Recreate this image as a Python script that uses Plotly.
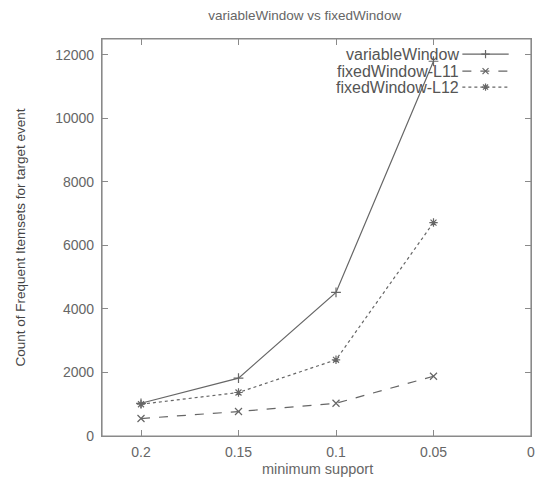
import plotly.graph_objects as go

support = [0.2, 0.15, 0.1, 0.05]
variable_window = [1030, 1820, 4520, 11800]
fixed_l11 = [550, 770, 1030, 1880]
fixed_l12 = [1000, 1370, 2400, 6720]

series_names = ["variableWindow", "fixedWindow-L11", "fixedWindow-L12"]
x_ticks = [0.2, 0.15, 0.1, 0.05, 0]
x_tick_text = ["0.2", "0.15", "0.1", "0.05", "0"]
y_ticks = [0, 2000, 4000, 6000, 8000, 10000, 12000]
y_tick_text = ["0", "2000", "4000", "6000", "8000", "10000", "12000"]

styles = [
    dict(dash="solid", symbol="cross-thin-open", color="#666666"),
    dict(dash="dash", symbol="x-thin-open", color="#666666"),
    dict(dash="dot", symbol="asterisk-open", color="#666666"),
]
series = [variable_window, fixed_l11, fixed_l12]

FONT = "Liberation Sans, Arial, sans-serif"
fig = go.Figure()

for name, vals, st in zip(series_names, series, styles):
    fig.add_trace(go.Scatter(
        x=support, y=vals, mode="lines+markers", name=name,
        line=dict(color=st["color"], width=1.2, dash=st["dash"]),
        marker=dict(symbol=st["symbol"], size=7, color=st["color"],
                    line=dict(color=st["color"], width=1.2)),
        showlegend=False,
    ))

# gnuplot-style key (text, then sample) on an overlay axis in unit coords
key_rows = [0.962, 0.919, 0.879]
for name, st, ky in zip(series_names, styles, key_rows):
    fig.add_trace(go.Scatter(
        x=[0.84, 0.948], y=[ky, ky], mode="lines", xaxis="x2", yaxis="y2",
        line=dict(color=st["color"], width=1.2, dash=st["dash"]),
        showlegend=False, hoverinfo="skip",
    ))
    fig.add_trace(go.Scatter(
        x=[0.894], y=[ky], mode="markers", xaxis="x2", yaxis="y2",
        marker=dict(symbol=st["symbol"], size=6, color=st["color"],
                    line=dict(color=st["color"], width=1.2)),
        showlegend=False, hoverinfo="skip",
    ))
    fig.add_annotation(
        x=0.836, y=ky, xref="paper", yref="paper", text=name,
        xanchor="right", yanchor="middle", showarrow=False,
        font=dict(family=FONT, size=16, color="#555555"),
    )

# x-axis title placed below the tick labels
fig.add_annotation(
    x=0.503, y=-0.084, xref="paper", yref="paper", text="minimum support",
    xanchor="center", yanchor="middle", showarrow=False,
    font=dict(family=FONT, size=14.5, color="#666666"),
)

axis_common = dict(
    showgrid=False, zeroline=False, showline=True, linecolor="#8a8a8a",
    linewidth=1.2, ticks="inside", ticklen=6, tickcolor="#8a8a8a",
    mirror="allticks", automargin=False, ticklabeloverflow="allow",
    tickfont=dict(family=FONT, size=14, color="#666666"),
)

# plot frame (border box of the plotting area)
fig.add_shape(type="rect", xref="paper", yref="paper", x0=0, x1=1, y0=0, y1=1,
              line=dict(color="#8a8a8a", width=1.2), layer="above")

# page body has an 8px default margin on every side; keep the page from overflowing
fig.update_layout(
    width=528, height=471,
    margin=dict(l=94, r=5, t=31, b=43, autoexpand=False),
    paper_bgcolor="white", plot_bgcolor="white",
    title=dict(text="variableWindow vs fixedWindow", x=0.562, xanchor="center",
               y=1 - 7 / 471, yanchor="middle", automargin=False,
               font=dict(family=FONT, size=13.5, color="#666666")),
    xaxis=dict(range=[0.22, -1e-6], tickvals=x_ticks, ticktext=x_tick_text,
               ticklabelstandoff=3, **axis_common),
    yaxis=dict(range=[0, 12500], tickvals=y_ticks, ticktext=y_tick_text,
               ticklabelstandoff=4,
               title=dict(text="Count of Frequent Itemsets for target event", standoff=26,
                          font=dict(family=FONT, size=13.5, color="#444444")),
               **axis_common),
    xaxis2=dict(range=[0, 1], overlaying="x", visible=False),
    yaxis2=dict(range=[0, 1], overlaying="y", visible=False),
)

fig.write_html("out.html")
